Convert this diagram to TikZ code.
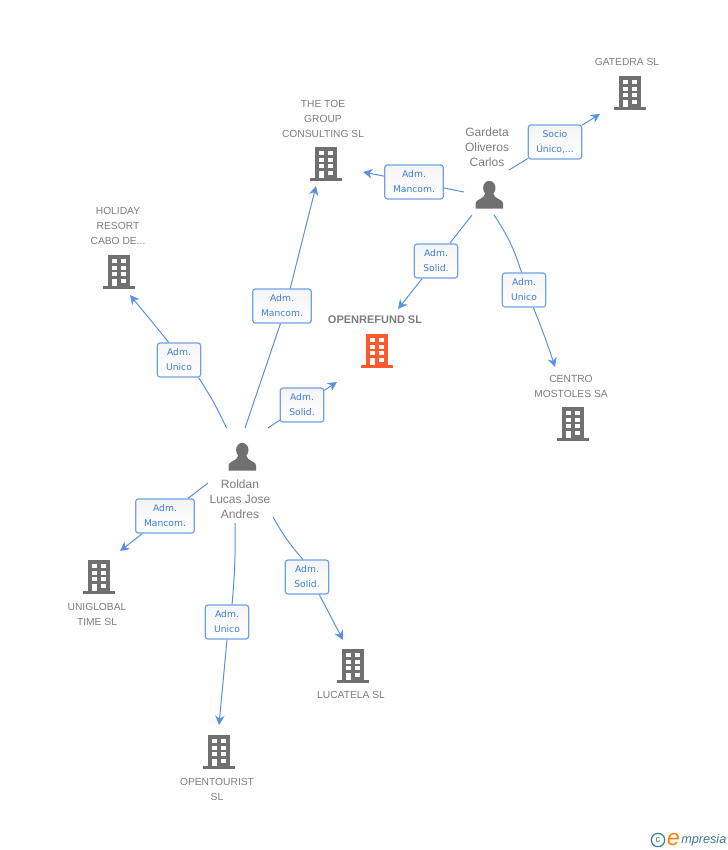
\documentclass[tikz,border=0pt]{standalone}
\usepackage{fontspec}
\usepackage{xcolor}
\setmainfont{Liberation Sans}
\newfontfamily\cargofont{DejaVu Sans}
\usetikzlibrary{arrows.meta}
\definecolor{grisicono}{HTML}{707070}
\definecolor{gristexto}{HTML}{7D7D7D}
\definecolor{naranja}{HTML}{FF5A2D}
\definecolor{azul}{HTML}{3B7DDD}
\definecolor{azulclaro}{HTML}{6FA0EA}
\definecolor{teal}{HTML}{3E7C8E}
\tikzset{
  empresa/.style={text=gristexto, font=\fontsize{7.7}{11.25}\selectfont, align=center},
  persona/.style={text=gristexto, font=\fontsize{9}{11.25}\selectfont, align=center},
  cargo/.style={draw=azulclaro, line width=0.9pt, rounded corners=2pt, top color=black!4, bottom color=white,
    text=azul, font=\cargofont\fontsize{6.9}{11.25}\selectfont, align=center, inner sep=0pt,
    minimum width=32.5pt, minimum height=25.5pt},
  cargoancho/.style={cargo, minimum width=44pt},
  linea/.style={azul!85!white, line width=0.75pt},
  flecha/.style={linea, -{Stealth[length=7pt, width=7pt]}},
  pics/edificio/.style={code={
    \fill[#1] (-11,-17) rectangle (11,14);
    \fill[#1] (-16,14) rectangle (16,17);
    \foreach \yv in {-13,-6.4,0.3}{
      \fill[white] (-7.3,\yv) rectangle (-2.3,\yv+4);
      \fill[white] (2.3,\yv) rectangle (7.3,\yv+4);
    }
    \fill[white] (-7.3,7) rectangle (-2.3,14);
    \fill[white] (2.3,7) rectangle (7.3,11);
  }},
  pics/silueta/.style={code={
    \fill[grisicono] (0.3,-7) ellipse (6.2 and 7.2);
    \fill[grisicono] (-13.5,13.5) -- (-13.5,8) .. controls (-13,4) and (-5,4.5) .. (-3.5,-2)
      -- (4,-2) .. controls (5.5,4.5) and (13.5,4) .. (14,8) -- (14,13.5) -- cycle;
  }}
}
\begin{document}
\begin{tikzpicture}[x=0.75pt, y=-0.75pt]
\useasboundingbox (0,0) rectangle (728,850);
% Edificios
\pic at (630,93) {edificio=grisicono};
\pic at (326,164) {edificio=grisicono};
\pic at (119,272) {edificio=grisicono};
\pic at (377,351) {edificio=naranja};
\pic at (573,424) {edificio=grisicono};
\pic at (99,577) {edificio=grisicono};
\pic at (353,666) {edificio=grisicono};
\pic at (219,752) {edificio=grisicono};
% Personas
\pic at (489,195) {silueta};
\pic at (242,457) {silueta};
% Nombres
\node[empresa] (gatedra) at (627,62) {GATEDRA SL};
\node[empresa] (thetoe) at (323,119) {THE TOE\\GROUP\\CONSULTING SL};
\node[empresa] (holiday) at (118,226) {HOLIDAY\\RESORT\\CABO DE...};
\node[empresa, font=\fontsize{8.25}{11.25}\selectfont\bfseries] (openrefund) at (375,320) {OPENREFUND SL};
\node[empresa] (centro) at (571,386) {CENTRO\\MOSTOLES SA};
\node[empresa] (uniglobal) at (97,614) {UNIGLOBAL\\TIME  SL};
\node[empresa] (lucatela) at (351,695) {LUCATELA SL};
\node[empresa] (opentourist) at (217,789) {OPENTOURIST\\SL};
\node[persona] (gardeta) at (487,147) {Gardeta\\Oliveros\\Carlos};
\node[persona] (roldan) at (240,499) {Roldan\\Lucas Jose\\Andres};
% Cargos
\node[cargo, minimum width=40pt] (socio) at (555,142) {Socio\\Único,...};
\node[cargoancho] (mancomtoe) at (414,182) {Adm.\\Mancom.};
\node[cargo] (solidopen) at (436,261) {Adm.\\Solid.};
\node[cargo] (unicocentro) at (524,290) {Adm.\\Unico};
\node[cargoancho] (mancomrol) at (282,306) {Adm.\\Mancom.};
\node[cargo] (unicohol) at (179,360) {Adm.\\Unico};
\node[cargo] (solidrol) at (302,405) {Adm.\\Solid.};
\node[cargoancho] (mancomuni) at (165,516) {Adm.\\Mancom.};
\node[cargo] (solidluc) at (307,577) {Adm.\\Solid.};
\node[cargo] (unicoopen) at (227,622) {Adm.\\Unico};
% Extremos libres
\coordinate (g1) at (509,170);
\coordinate (g2) at (464,192);
\coordinate (g3) at (472,215);
\coordinate (g4) at (494,215);
\coordinate (r1) at (245,428);
\coordinate (r2) at (226.5,428);
\coordinate (r3) at (268,428);
\coordinate (r4) at (208,483);
\coordinate (r5) at (235,523);
\coordinate (r6) at (273,517);
\coordinate (tgatedra) at (600,114);
\coordinate (tthetoe) at (363,172);
\coordinate (tthetoeb) at (316,186);
\coordinate (tholiday) at (130,295);
\coordinate (topenb) at (398,309);
\coordinate (topena) at (337,382);
\coordinate (tcentro) at (555,367);
\coordinate (tuniglobal) at (120,551);
\coordinate (tlucatela) at (343,640);
\coordinate (topentourist) at (219,725);
% Conectores de Gardeta
\draw[linea] (g1) -- (socio);
\draw[flecha] (socio) -- (tgatedra);
\draw[linea] (g2) -- (mancomtoe);
\draw[flecha] (mancomtoe) -- (tthetoe);
\draw[linea] (g3) -- (solidopen);
\draw[flecha] (solidopen) -- (topenb);
\draw[linea] (g4) to[bend left=8] (unicocentro.98);
\draw[flecha] (unicocentro.298) to[bend left=2] (tcentro);
% Conectores de Roldan
\draw[linea] (r1) -- (mancomrol.265);
\draw[flecha] (mancomrol.65) -- (tthetoeb);
\draw[linea] (r2) to[bend right=4] (unicohol.318);
\draw[flecha] (unicohol.120) -- (tholiday);
\draw[linea] (r3) -- (solidrol);
\draw[flecha] (solidrol) -- (topena);
\draw[linea] (r4) -- (mancomuni);
\draw[flecha] (mancomuni) -- (tuniglobal);
\draw[linea] (r5) to[bend left=3] (unicoopen.74);
\draw[flecha] (unicoopen.south) -- (topentourist);
\draw[linea] (r6) to[bend right=6] (solidluc.103);
\draw[flecha] (solidluc.305) -- (tlucatela);
% Marca
\node[circle, draw=teal, line width=0.9pt, minimum size=10pt, inner sep=0pt, text=teal, font=\fontsize{7}{8}\selectfont] (copy) at (658,840) {c};
\node[text=teal, font=\fontsize{9.5}{12}\selectfont\itshape, inner sep=0pt, anchor=base west] (marca) at (681,843) {mpresia};
\node[text=orange, font=\fontsize{17}{12}\selectfont\itshape, inner sep=0pt, anchor=base east] (marcae) at (680,845) {e};
\end{tikzpicture}
\end{document}
